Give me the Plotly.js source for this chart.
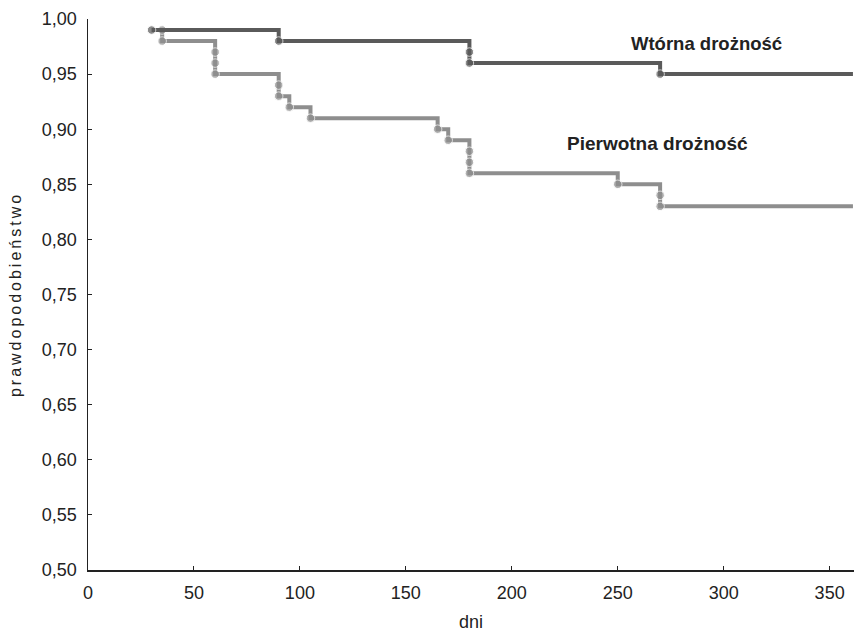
<!DOCTYPE html>
<html>
<head>
<meta charset="utf-8">
<script src="https://cdn.plot.ly/plotly-3.0.1.min.js"></script>
<style>html,body{margin:0;padding:0;background:#fff;}#chart{width:854px;height:632px;}</style>
</head>
<body>
<div id="chart"></div>
<script>
// Secondary patency (Wtórna drożność)
const secDays = [30, 90, 180, 180, 270, 361];
const secProb = [0.99, 0.98, 0.97, 0.96, 0.95, 0.95];
// Primary patency (Pierwotna drożność)
const priDays = [35, 35, 60, 60, 60, 90, 90, 95, 105, 165, 170, 180, 180, 180, 250, 270, 270, 361];
const priProb = [0.99, 0.98, 0.97, 0.96, 0.95, 0.94, 0.93, 0.92, 0.91, 0.90, 0.89, 0.88, 0.87, 0.86, 0.85, 0.84, 0.83, 0.83];
const yTicks = [0.50, 0.55, 0.60, 0.65, 0.70, 0.75, 0.80, 0.85, 0.90, 0.95, 1.00];
const xTicks = [0, 50, 100, 150, 200, 250, 300, 350];
const labelSec = "Wtórna drożność";
const labelPri = "Pierwotna drożność";

const markerSizes = (n) => Array.from({length: n}, (_, i) => i === n - 1 ? 0 : 8.5);
const FAM = 'Liberation Sans, Arial, sans-serif';

const traces = [
  {
    x: priDays, y: priProb, type: 'scatter', mode: 'lines+markers',
    line: {shape: 'hv', color: '#8e8e8e', width: 4},
    marker: {color: '#8e8e8e', size: markerSizes(priDays.length)},
    cliponaxis: false, hoverinfo: 'skip'
  },
  {
    x: secDays, y: secProb, type: 'scatter', mode: 'lines+markers',
    line: {shape: 'hv', color: '#5a5a5a', width: 4},
    marker: {color: '#5a5a5a', size: markerSizes(secDays.length)},
    cliponaxis: false, hoverinfo: 'skip'
  }
];

const axFont = {family: FAM, size: 18, color: '#222'};

const layout = {
  width: 854, height: 632,
  margin: {l: 88, r: 0, t: 19, b: 62, pad: 0},
  paper_bgcolor: '#fff', plot_bgcolor: '#fff',
  showlegend: false,
  separators: ', ',
  font: axFont,
  xaxis: {
    range: [0, 361.5], tickvals: xTicks, ticks: 'inside', ticklen: 4, tickwidth: 1, tickcolor: '#222',
    showgrid: false, zeroline: false, showline: true, linecolor: '#222', linewidth: 1.5,
    tickfont: axFont, ticklabelstandoff: 6,
    title: {text: 'dni', font: axFont, standoff: 13}
  },
  yaxis: {
    range: [0.5, 1.0], tickvals: yTicks, tickformat: '.2f', ticks: 'inside', ticklen: 4, tickwidth: 1, tickcolor: '#222',
    showgrid: false, zeroline: false, showline: true, linecolor: '#222', linewidth: 1.5,
    tickfont: axFont, ticklabelstandoff: 6,
    title: {text: 'prawdopodobieństwo', font: {family: FAM, size: 16, color: '#222'}, standoff: 16}
  },
  annotations: [
    {x: 255.5, y: 0.9776, xref: 'x', yref: 'y', text: '<b>' + labelSec + '</b>', showarrow: false, xanchor: 'left',
     font: {family: FAM, size: 18.5, color: '#222'}},
    {x: 225, y: 0.8866, xref: 'x', yref: 'y', text: '<b>' + labelPri + '</b>', showarrow: false, xanchor: 'left',
     font: {family: FAM, size: 19, color: '#222'}}
  ]
};

Plotly.newPlot('chart', traces, layout, {displayModeBar: false, staticPlot: true}).then(() => {
  const t = document.querySelector('.ytitle');
  if (t) t.style.letterSpacing = '3px';
});
</script>
</body>
</html>
